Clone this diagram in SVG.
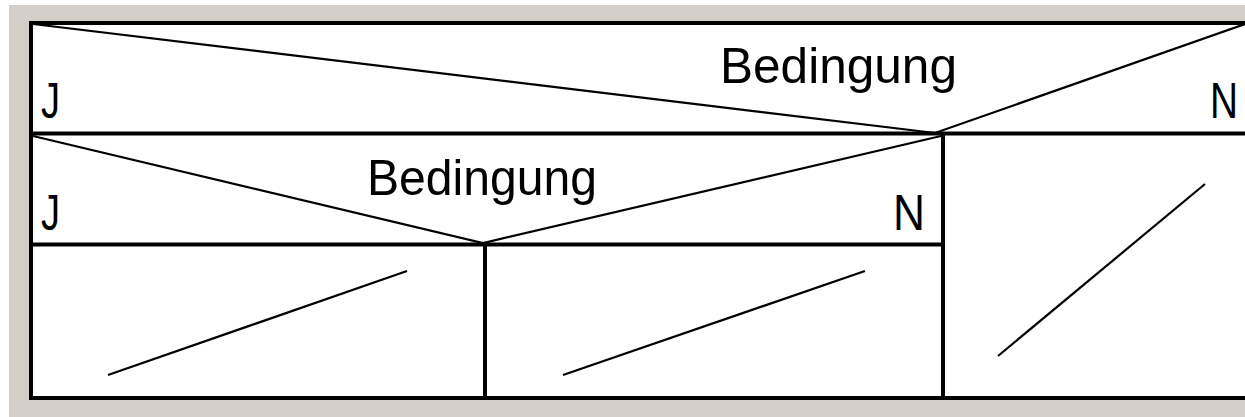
<svg xmlns="http://www.w3.org/2000/svg" width="1245" height="417" viewBox="0 0 1245 417">
<style>
.frame{fill:#ffffff;stroke:#000;stroke-width:4}
.rule{stroke:#000;stroke-width:4;fill:none}
.diag{stroke:#000;stroke-width:2.2;fill:none}
.lbl{font-family:"Liberation Sans",Arial,sans-serif;font-size:50px;fill:#000}
</style>
<rect x="0" y="0" width="1245" height="417" fill="#ffffff"/>
<rect x="9" y="5" width="1236" height="412" fill="#d4d0c8"/>
<g id="frame">
<rect class="frame" x="31" y="23" width="1230" height="375"/>
</g>
<g id="condition-outer">
<line class="rule" x1="31" y1="133.5" x2="1245" y2="133.5"/>
<polyline class="diag" points="33,24 935,133 1245,24"/>
<text class="lbl" x="720" y="83" textLength="237" lengthAdjust="spacingAndGlyphs">Bedingung</text>
<text class="lbl" x="41" y="118" textLength="19" lengthAdjust="spacingAndGlyphs">J</text>
<text class="lbl" x="1210" y="118" textLength="28" lengthAdjust="spacingAndGlyphs">N</text>
</g>
<g id="condition-inner">
<line class="rule" x1="31" y1="244.5" x2="943" y2="244.5"/>
<polyline class="diag" points="33,136 483,243 941,136"/>
<text class="lbl" x="367" y="195" textLength="230" lengthAdjust="spacingAndGlyphs">Bedingung</text>
<text class="lbl" x="41" y="230" textLength="19" lengthAdjust="spacingAndGlyphs">J</text>
<text class="lbl" x="893" y="230" textLength="32" lengthAdjust="spacingAndGlyphs">N</text>
</g>
<g id="connectors">
<line class="rule" x1="943" y1="133" x2="943" y2="398"/>
<line class="rule" x1="485" y1="244" x2="485" y2="398"/>
</g>
<g id="cell-yes-yes">
<line class="diag" x1="108" y1="375" x2="407" y2="271"/>
</g>
<g id="cell-yes-no">
<line class="diag" x1="563" y1="375" x2="865" y2="271"/>
</g>
<g id="cell-no">
<line class="diag" x1="998" y1="356" x2="1205" y2="184"/>
</g>
</svg>
